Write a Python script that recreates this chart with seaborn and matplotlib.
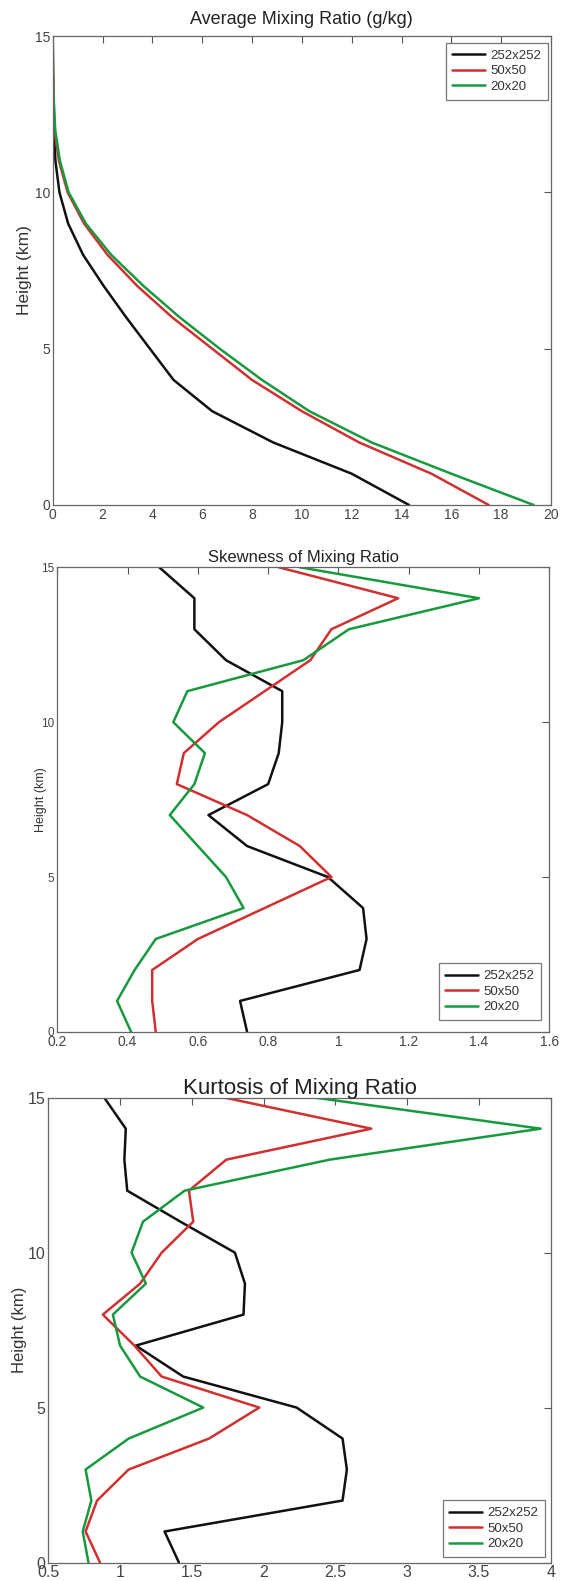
import numpy as np
import pandas as pd
import matplotlib
matplotlib.use('Agg')
import matplotlib.pyplot as plt
import seaborn as sns

# Heights (km)
height = list(range(16))
resolutions = ['252x252', '50x50', '20x20']

# Average mixing ratio (g/kg)
mean_252 = [14.3, 12.0, 8.85, 6.4, 4.85, 3.9, 2.95, 2.05, 1.22, 0.62, 0.27, 0.11, 0.04, 0.02, 0.01, 0.0]
mean_50 = [17.5, 15.2, 12.3, 10.0, 8.0, 6.4, 4.8, 3.4, 2.2, 1.26, 0.6, 0.25, 0.07, 0.03, 0.01, 0.0]
mean_20 = [19.3, 16.0, 12.8, 10.3, 8.4, 6.7, 5.1, 3.65, 2.35, 1.33, 0.64, 0.29, 0.1, 0.04, 0.01, 0.0]

# Skewness
skew_252 = [0.74, 0.72, 1.06, 1.08, 1.07, 0.97, 0.74, 0.63, 0.80, 0.83, 0.84, 0.84, 0.68, 0.59, 0.59, 0.49]
skew_50 = [0.48, 0.47, 0.47, 0.60, 0.79, 0.98, 0.89, 0.74, 0.54, 0.56, 0.66, 0.79, 0.92, 0.98, 1.17, 0.83]
skew_20 = [0.41, 0.37, 0.42, 0.48, 0.73, 0.68, 0.60, 0.52, 0.59, 0.62, 0.53, 0.57, 0.90, 1.03, 1.40, 0.89]

# Kurtosis
kurt_252 = [1.41, 1.31, 2.55, 2.58, 2.55, 2.23, 1.44, 1.11, 1.86, 1.87, 1.80, 1.42, 1.05, 1.03, 1.04, 0.89]
kurt_50 = [0.86, 0.76, 0.84, 1.06, 1.62, 1.97, 1.29, 1.10, 0.88, 1.14, 1.29, 1.51, 1.48, 1.74, 2.75, 1.73]
kurt_20 = [0.78, 0.74, 0.80, 0.76, 1.06, 1.58, 1.14, 1.00, 0.95, 1.18, 1.08, 1.16, 1.45, 2.46, 3.93, 2.36]

palette = {'252x252': '#111111', '50x50': '#d03030', '20x20': '#17993f'}


def long_frame(a, b, c):
    rows = []
    for name, vals in zip(resolutions, [a, b, c]):
        for h, v in zip(height, vals):
            rows.append({'Resolution': name, 'Height': h, 'Value': v})
    return pd.DataFrame(rows)


sns.set_style('white')
plt.rcParams['font.family'] = ['Liberation Sans', 'DejaVu Sans']

fig = plt.figure(figsize=(5.62, 15.81), dpi=100)
ax1 = fig.add_axes([0.0938, 0.6806, 0.8866, 0.2966])
ax2 = fig.add_axes([0.1020, 0.3473, 0.8754, 0.2939])
ax3 = fig.add_axes([0.0859, 0.0117, 0.8940, 0.2940])

# ax, data, title, title size, title pad, xlim, xticks, legend loc, legend anchor,
# ylabel size, ylabel x, tick size
panels = [
    (ax1, long_frame(mean_252, mean_50, mean_20), 'Average Mixing Ratio (g/kg)', 13, 9,
     (0, 20), np.arange(0, 21, 2), 'upper right', (0.994, 0.985), 12.5, -0.042, 10),
    (ax2, long_frame(skew_252, skew_50, skew_20), 'Skewness of Mixing Ratio', 12, 4,
     (0.2, 1.6), np.arange(0.2, 1.61, 0.2), 'lower right', (0.983, 0.026), 9, -0.022, 10),
    (ax3, long_frame(kurt_252, kurt_50, kurt_20), 'Kurtosis of Mixing Ratio', 16, 3,
     (0.5, 4), np.arange(0.5, 4.01, 0.5), 'lower right', (0.989, 0.012), 12, -0.042, 11.5),
]

for ax, df, title, tsize, tpad, xlim, xticks, loc, anchor, ylsize, ylx, tksize in panels:
    sns.lineplot(data=df, x='Value', y='Height', hue='Resolution', palette=palette,
                 hue_order=resolutions, orient='y', estimator=None, linewidth=1.8, ax=ax)
    ax.set_xlim(*xlim)
    ax.set_ylim(0, 15)
    ax.set_xticks(xticks)
    ax.set_xticklabels(['%g' % round(t, 2) for t in xticks])
    ax.set_yticks([0, 5, 10, 15])
    ax.set_xlabel('')
    ax.set_ylabel('Height (km)', fontsize=ylsize, color='#333333')
    ax.yaxis.set_label_coords(ylx, 0.5)
    ax.set_title(title, fontsize=tsize, color='#222222', pad=tpad)
    ax.tick_params(direction='in', top=True, right=True, length=5, width=0.8,
                   colors='#555555', labelsize=tksize, labelcolor='#444444', pad=2)
    for s in ax.spines.values():
        s.set_color('#666666')
        s.set_linewidth(0.9)
    leg = ax.legend(loc=loc, bbox_to_anchor=anchor, borderaxespad=0, fontsize=9.5,
                    frameon=True, fancybox=False, handlelength=2.5, borderpad=0.5,
                    labelspacing=0.25, handletextpad=0.4)
    leg.get_frame().set_edgecolor('#555555')
    leg.get_frame().set_linewidth(0.9)
    for t in leg.get_texts():
        t.set_color('#333333')

ax2.tick_params(axis='y', labelsize=8.5)

fig.savefig('out.png', dpi=100)
